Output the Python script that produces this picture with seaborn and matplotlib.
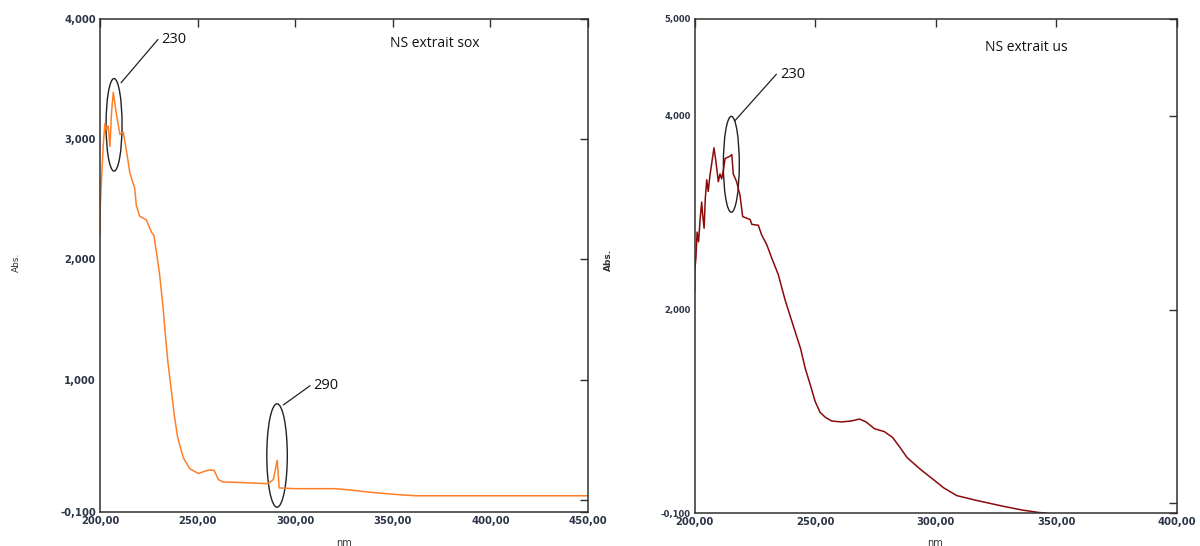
import numpy as np
import pandas as pd
import seaborn as sns
import matplotlib
matplotlib.use("Agg")
import matplotlib.pyplot as plt
from matplotlib.patches import Ellipse
from matplotlib.ticker import FixedLocator

# --- Soxhlet extract spectrum (absorbance vs wavelength) ---
sox_nm = [200.0, 200.0, 200.8, 201.7, 202.5, 203.4, 204.2, 205.1, 205.9, 206.8,
          207.6, 208.5, 210.2, 211.9, 213.6, 215.3, 217.8, 218.6, 220.3, 223.7,
          226.3, 227.6, 229.0, 230.5, 232.2, 233.4, 234.7, 236.4, 238.1, 239.8,
          242.7, 246.0, 250.4, 253.8, 256.0, 258.5, 259.5, 260.6, 263.0, 273.0,
          286.0, 288.8, 290.8, 291.8, 300.0, 310.0, 320.0, 325.0, 330.0, 335.0,
          340.0, 345.0, 350.0, 355.0, 362.0, 400.0, 450.0]
sox_abs = [2.20, 2.39, 2.67, 2.96, 3.13, 3.08, 3.11, 2.94, 3.22, 3.39,
           3.30, 3.20, 3.04, 3.06, 2.90, 2.72, 2.59, 2.45, 2.36, 2.33,
           2.23, 2.20, 2.05, 1.88, 1.62, 1.39, 1.16, 0.93, 0.70, 0.52,
           0.35, 0.26, 0.22, 0.24, 0.25, 0.245, 0.21, 0.17, 0.15, 0.145,
           0.135, 0.17, 0.33, 0.10, 0.094, 0.094, 0.094, 0.088, 0.080, 0.070,
           0.062, 0.055, 0.048, 0.042, 0.035, 0.035, 0.035]

# --- Ultrasound extract spectrum ---
us_nm = [200.0, 200.0, 200.5, 201.0, 201.6, 202.3, 202.9, 203.3, 203.9, 204.4,
         205.0, 205.6, 206.3, 207.0, 208.0, 208.8, 209.8, 210.5, 211.2, 211.9,
         212.6, 214.4, 215.4, 216.0, 217.4, 218.8, 219.9, 223.0, 223.7, 226.4,
         227.8, 229.9, 232.0, 234.7, 237.5, 240.3, 243.9, 245.9, 248.0, 250.0,
         252.0, 254.1, 256.8, 260.9, 265.0, 268.4, 271.1, 274.6, 278.7, 282.1,
         284.8, 288.2, 293.7, 299.8, 303.3, 308.7, 316.9, 327.9, 336.0, 342.8,
         346.0]
us_abs = [2.19, 2.40, 2.53, 2.80, 2.70, 2.95, 3.11, 2.98, 2.84, 3.15,
          3.34, 3.22, 3.38, 3.50, 3.67, 3.53, 3.32, 3.40, 3.35, 3.44,
          3.56, 3.58, 3.60, 3.40, 3.32, 3.18, 2.96, 2.93, 2.88, 2.87,
          2.77, 2.67, 2.53, 2.36, 2.10, 1.88, 1.60, 1.39, 1.22, 1.05,
          0.94, 0.89, 0.85, 0.84, 0.85, 0.87, 0.84, 0.77, 0.74, 0.68,
          0.59, 0.47, 0.35, 0.23, 0.16, 0.08, 0.03, -0.03, -0.07, -0.095,
          -0.10]

# Axis ticks and labels (comma decimal separator)
sox_xticks = [200, 250, 300, 350, 400, 450]
us_xticks = [200, 250, 300, 350, 400]
sox_yticks = [-0.1, 0, 1, 2, 3, 4]
sox_ylabels = ["-0,100", "", "1,000", "2,000", "3,000", "4,000"]
us_yticks = [-0.1, 0, 2, 4, 5]
us_ylabels = ["-0,100", "", "2,000", "4,000", "5,000"]

sns.set_style("white")
plt.rcParams["font.family"] = ["DejaVu Sans"]

W, H = 1200, 546
fig = plt.figure(figsize=(W / 100, H / 100), dpi=100)
ax1 = fig.add_axes([100 / W, 1 - 512 / H, 488 / W, 493 / H])
ax2 = fig.add_axes([694.7 / W, 1 - 513 / H, 482 / W, 494 / H])

df_sox = pd.DataFrame({"nm": sox_nm, "Abs.": sox_abs})
df_us = pd.DataFrame({"nm": us_nm, "Abs.": us_abs})

sns.lineplot(data=df_sox, x="nm", y="Abs.", ax=ax1, color="#FF7F27",
             linewidth=1.1, estimator=None, sort=False)
sns.lineplot(data=df_us, x="nm", y="Abs.", ax=ax2, color="#8B0A0A",
             linewidth=1.1, estimator=None, sort=False)

tick_color = "#2b3447"
for ax, xt, yt, yl, xlim, ylim, ysize in [
    (ax1, sox_xticks, sox_yticks, sox_ylabels, (200, 450), (-0.1, 4.0), 7.2),
    (ax2, us_xticks, us_yticks, us_ylabels, (200, 400), (-0.1, 5.0), 6.0),
]:
    ax.set_xlim(*xlim)
    ax.set_ylim(*ylim)
    ax.xaxis.set_major_locator(FixedLocator(xt))
    ax.set_xticklabels([f"{v:.2f}".replace(".", ",") for v in xt])
    ax.yaxis.set_major_locator(FixedLocator(yt))
    ax.set_yticklabels(yl)
    ax.set_xlabel("")
    ax.set_ylabel("")
    ax.tick_params(direction="in", length=6, width=1, top=True, right=True,
                   color="#303030", pad=3)
    ax.tick_params(axis="x", labelsize=7.2, labelcolor=tick_color)
    ax.tick_params(axis="y", labelsize=ysize, labelcolor=tick_color)
    for lbl in ax.get_xticklabels() + ax.get_yticklabels():
        lbl.set_fontweight("bold")
    for s in ax.spines.values():
        s.set_color("#303030")
        s.set_linewidth(1.1)
    ax.grid(False)

# Axis titles
fig.text(16 / W, 1 - 262 / H, "Abs.", rotation=90, fontsize=6.5,
         ha="center", va="center", color="#333333")
fig.text(608 / W, 1 - 260 / H, "Abs.", rotation=90, fontsize=6.5,
         ha="center", va="center", color="#333333", fontweight="bold")
fig.text(344 / W, 0.0, "nm", fontsize=7, ha="center", va="baseline", color="#333333")
fig.text(935 / W, 0.0, "nm", fontsize=7, ha="center", va="baseline", color="#333333")

# Sample names
ax1.text(0.594, 0.951, "NS extrait sox", transform=ax1.transAxes,
         fontsize=10, family="Open Sans", ha="left", va="center", color="#111111")
ax2.text(0.602, 0.943, "NS extrait us", transform=ax2.transAxes,
         fontsize=10, family="Open Sans", ha="left", va="center", color="#111111")

# Peak callouts: ellipse around the band plus a leader line to the wavelength
callouts = [
    (ax1, (207.2, 3.12), 8.2, 0.77, (210.8, 3.47), (231.2, 3.83), "230"),
    (ax1, (290.7, 0.37), 10.5, 0.86, (293.9, 0.79), (309.1, 0.95), "290"),
    (ax2, (215.2, 3.50), 6.6, 0.99, (216.7, 3.95), (235.4, 4.43), "230"),
]
for ax, c, w, h, p0, p1, lab in callouts:
    ax.add_patch(Ellipse(c, w, h, facecolor="none", edgecolor="#222222", lw=1.0))
    ax.plot([p0[0], p1[0] - 1.5], [p0[1], p1[1]], color="#222222", lw=0.9)
    ax.text(p1[0], p1[1], lab, fontsize=10.5, family="Open Sans",
            ha="left", va="center", color="#111111")

fig.savefig("out.png", dpi=100)
